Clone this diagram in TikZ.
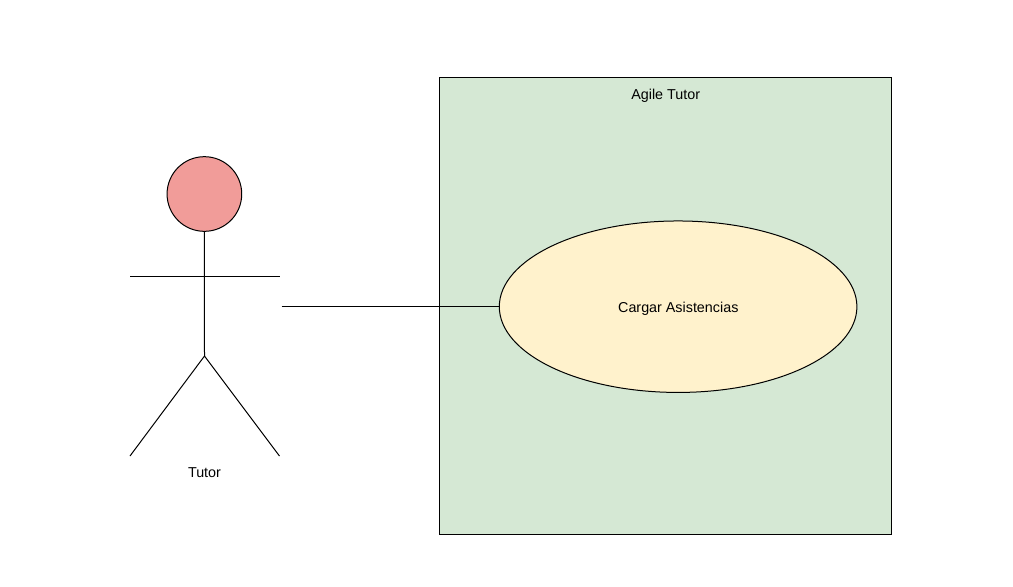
\documentclass[tikz,border=0pt]{standalone}
\usepackage{fontspec}
\setmainfont{Liberation Sans}
\usetikzlibrary{shapes.geometric}
\definecolor{sysgreen}{HTML}{D5E8D4}
\definecolor{caseyellow}{HTML}{FFF2CC}
\definecolor{headred}{HTML}{F19C99}
\tikzset{
  px/.style={x=0.75pt,y=-0.75pt},
  ln/.style={draw=black,line width=0.75pt,outer sep=0pt},
  lbl/.style={font=\fontsize{10.75pt}{12pt}\selectfont,inner sep=0pt,text=black}
}
\begin{document}
\begin{tikzpicture}[px]
\useasboundingbox (0,0) rectangle (1013,586);
\node[ln,fill=sysgreen,minimum width=339.6pt,minimum height=343.1pt,inner sep=0pt,anchor=north west] (sys) at (439,77.2) {};
\node[lbl] (title) at (665.7,95.6) {Agile Tutor};
\node[ln,fill=caseyellow,ellipse,minimum width=268.2pt,minimum height=128.6pt,inner sep=0pt] (uc) at (678.1,306.7) {};
\node[lbl] (uclabel) at (678.3,308.6) {Cargar Asistencias};
\node[ln,fill=headred,circle,minimum size=56pt,inner sep=0pt] (head) at (204.4,194) {};
\coordinate (hip) at (204.5,356);
\coordinate (armL) at (130,276.4);
\coordinate (armR) at (279.5,276.4);
\coordinate (footL) at (130,456);
\coordinate (footR) at (279.5,456);
\coordinate (actorend) at (281.5,306.7);
\draw[ln] (head.south) -- (hip);
\draw[ln] (armL) -- (armR);
\draw[ln] (footL) -- (hip) -- (footR);
\node[lbl] (actor) at (204.5,473) {Tutor};
\draw[ln] (actorend) -- (uc.west);
\end{tikzpicture}
\end{document}
